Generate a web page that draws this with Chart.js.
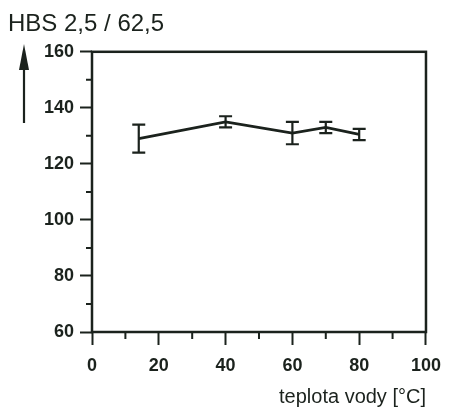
<!DOCTYPE html>
<html>
<head>
<meta charset="utf-8">
<script src="https://cdn.jsdelivr.net/npm/chart.js@4.4.1/dist/chart.umd.min.js"></script>
<style>
  html, body { margin: 0; padding: 0; background: #ffffff; }
  #wrap { width: 451px; height: 412px; position: relative; }
</style>
</head>
<body>
<div id="wrap"><canvas id="c" width="451" height="412"></canvas></div>
<script>
// Data
const temperatures = [14, 40, 60, 70, 80];          // teplota vody [°C]
const hardness = [129, 135, 131, 133, 130.5];       // HBS 2,5 / 62,5
const hardnessErr = [5, 2, 4, 2, 2];                // error bar half-ranges
const xMinorTicks = [10, 30, 50, 70, 90];
const yMinorTicks = [70, 90, 110, 130, 150];

const INK = '#1b221d';
const FONT = "'Liberation Sans', Arial, sans-serif";

const framePlugin = {
  id: 'frameAndExtras',
  beforeDatasetsDraw(chart) {
    const { ctx, chartArea: a, scales } = chart;
    ctx.save();
    ctx.strokeStyle = INK;
    ctx.lineWidth = 2.5;
    ctx.strokeRect(a.left, a.top, a.right - a.left, a.bottom - a.top);
    // minor ticks
    ctx.lineWidth = 2;
    ctx.beginPath();
    xMinorTicks.forEach(v => {
      const px = scales.x.getPixelForValue(v);
      ctx.moveTo(px, a.bottom);
      ctx.lineTo(px, a.bottom + 7);
    });
    yMinorTicks.forEach(v => {
      const py = scales.y.getPixelForValue(v);
      ctx.moveTo(a.left, py);
      ctx.lineTo(a.left - 6, py);
    });
    ctx.stroke();
    // arrow next to the y title
    ctx.lineWidth = 2.2;
    ctx.beginPath();
    ctx.moveTo(24, 123);
    ctx.lineTo(24, 62);
    ctx.stroke();
    ctx.fillStyle = INK;
    ctx.beginPath();
    ctx.moveTo(24, 44);
    ctx.lineTo(29, 70);
    ctx.lineTo(19, 70);
    ctx.closePath();
    ctx.fill();
    ctx.restore();
  },
  afterDatasetsDraw(chart) {
    const { ctx, scales } = chart;
    ctx.save();
    ctx.strokeStyle = INK;
    ctx.lineWidth = 2.2;
    temperatures.forEach((t, i) => {
      const px = scales.x.getPixelForValue(t);
      const top = scales.y.getPixelForValue(hardness[i] + hardnessErr[i]);
      const bot = scales.y.getPixelForValue(hardness[i] - hardnessErr[i]);
      ctx.beginPath();
      ctx.moveTo(px, top); ctx.lineTo(px, bot);
      ctx.moveTo(px - 6.5, top); ctx.lineTo(px + 6.5, top);
      ctx.moveTo(px - 6.5, bot); ctx.lineTo(px + 6.5, bot);
      ctx.stroke();
    });
    ctx.restore();
  }
};

new Chart(document.getElementById('c'), {
  type: 'line',
  data: {
    datasets: [{
      data: temperatures.map((t, i) => ({ x: t, y: hardness[i] })),
      borderColor: INK,
      borderWidth: 2.8,
      pointRadius: 0,
      tension: 0,
      fill: false
    }]
  },
  options: {
    responsive: false,
    animation: false,
    devicePixelRatio: 1,
    layout: { padding: { left: 8, right: 16, top: 0, bottom: 0 } },
    plugins: {
      legend: { display: false },
      tooltip: { enabled: false },
      title: {
        display: true,
        text: 'HBS 2,5 / 62,5',
        align: 'start',
        color: INK,
        font: { family: FONT, size: 24, weight: 'normal', lineHeight: 1.2 },
        padding: { top: 10, bottom: 13 }
      }
    },
    scales: {
      x: {
        type: 'linear',
        min: 0, max: 100,
        afterFit(s) { s.height = 80; },
        border: { display: false },
        grid: { display: true, drawOnChartArea: false, drawTicks: true, tickLength: 13, color: INK, tickWidth: 2 },
        ticks: {
          stepSize: 20,
          color: INK,
          padding: 10,
          maxRotation: 0,
          font: { family: FONT, size: 18, weight: 'bold' }
        },
        title: {
          display: true,
          text: 'teplota vody [°C]',
          align: 'end',
          color: INK,
          font: { family: FONT, size: 20, weight: 'normal', lineHeight: 1.2 },
          padding: { top: 0, bottom: 3 }
        }
      },
      y: {
        min: 60, max: 160,
        afterFit(s) { s.width = 84; },
        border: { display: false },
        grid: { display: true, drawOnChartArea: false, drawTicks: true, tickLength: 12, color: INK, tickWidth: 2 },
        ticks: {
          stepSize: 20,
          color: INK,
          padding: 6,
          font: { family: FONT, size: 18, weight: 'bold' }
        }
      }
    }
  },
  plugins: [framePlugin]
});
</script>
</body>
</html>
